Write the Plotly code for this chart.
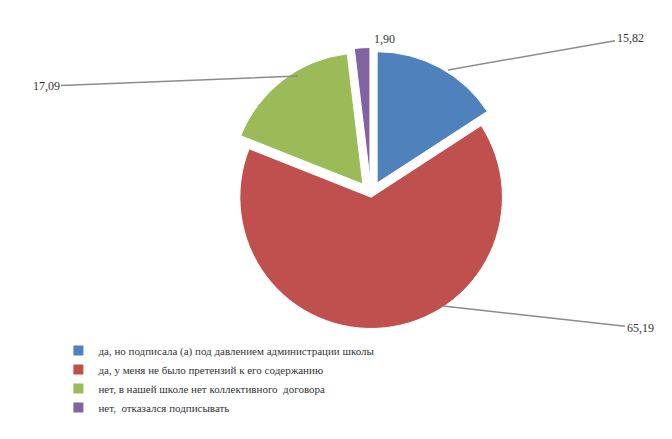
import plotly.graph_objects as go

categories = [
    "да, но подписала (а) под давлением администрации школы",
    "да, у меня не было претензий к его содержанию",
    "нет, в нашей школе нет коллективного  договора",
    "нет,  отказался подписывать",
]
values = [15.82, 65.19, 17.09, 1.90]
value_labels = ["15,82", "65,19", "17,09", "1,90"]
colors = ["#4f81bd", "#c0504d", "#9bbb59", "#8064a2"]
pulls = [0.10, 0.02, 0.10, 0.12]

FONT = "Liberation Serif, DejaVu Serif, Times New Roman, serif"

fig = go.Figure(go.Pie(
    labels=categories,
    values=values,
    textinfo="none",
    hoverinfo="label+value",
    sort=False,
    direction="clockwise",
    rotation=0,
    pull=pulls,
    marker=dict(colors=colors, line=dict(color="white", width=1)),
    domain=dict(x=[0.19, 0.89], y=[0.24, 0.91]),
))

# value labels with leader lines (positions of text relative to the pie)
W, H = 672, 439
label_specs = [
    # (tip_x_px, tip_y_px, text_x_px, text_y_px, show_line)
    (440, 62, 622, 30, True),
    (435, 298, 632, 320, True),
    (290, 68, 38, 78, True),
    (376, 22, 376, 22, False),
]
for txt, (tx, ty, lx, ly, line) in zip(value_labels, label_specs):
    fig.add_annotation(
        x=tx / W, y=1 - ty / H, xref="paper", yref="paper",
        text=txt,
        showarrow=line,
        arrowhead=0, arrowwidth=1.5, arrowcolor="#8c8c8c",
        ax=lx - tx, ay=ly - ty,
        font=dict(family=FONT, size=12, color="#333333"),
    )

fig.update_layout(
    width=W, height=H,
    margin=dict(l=0, r=0, t=0, b=0),
    paper_bgcolor="white",
    plot_bgcolor="white",
    font=dict(family=FONT, size=11, color="#333333"),
    legend=dict(
        x=0.075, y=0.253, xanchor="left", yanchor="top",
        orientation="v",
        font=dict(family=FONT, size=11, color="#333333"),
        itemsizing="constant",
        tracegroupgap=0,
        bgcolor="rgba(0,0,0,0)",
    ),
)

fig.write_html("out.html")
